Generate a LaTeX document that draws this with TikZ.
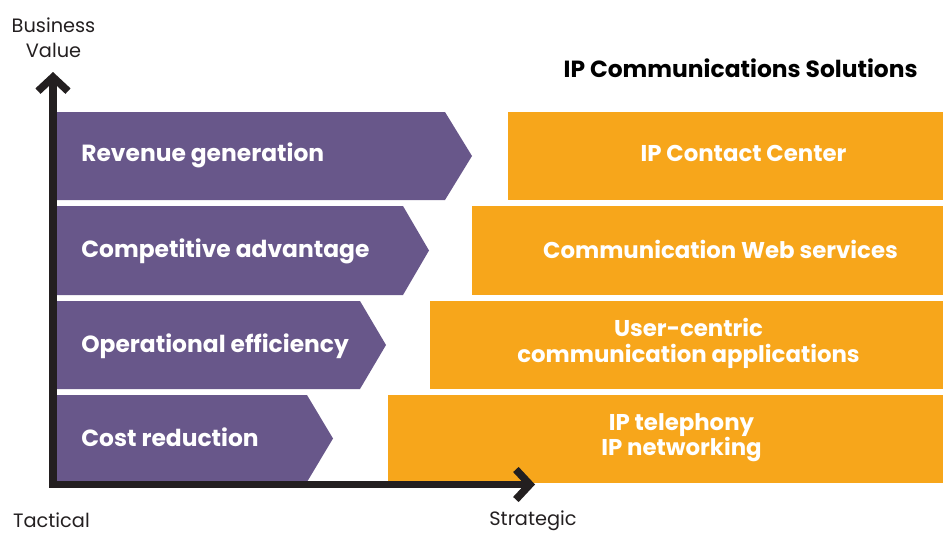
\documentclass[tikz,border=0pt]{standalone}
\usepackage{fontspec}
\setmainfont{Poppins}
\usetikzlibrary{arrows.meta}

\definecolor{benefit}{HTML}{68578A}
\definecolor{solution}{HTML}{F7A61B}
\definecolor{axisblack}{HTML}{231F20}

\tikzset{
  benefitlabel/.style={anchor=west, inner sep=0pt, text=white, font=\fontsize{13.3}{15}\selectfont\bfseries},
  solutionbox/.style={fill=solution, anchor=north west,
    inner sep=0pt, outer sep=0pt, minimum height=1.76cm},
  solutiontext/.style={text=white, align=center, font=\fontsize{13}{14.5}\selectfont\bfseries},
  axislabel/.style={text=axisblack, align=center, font=\fontsize{11}{14}\selectfont}
}

\begin{document}
\begin{tikzpicture}

	\useasboundingbox (0,0) rectangle (18.98,10.64);

	% purple benefit arrows
	\fill[benefit] (1.14,8.40) -- (8.90,8.40) -- (9.44,7.52) -- (8.90,6.64) -- (1.14,6.64) -- cycle;
	\fill[benefit] (1.14,6.52) -- (8.06,6.52) -- (8.58,5.63) -- (8.06,4.74) -- (1.14,4.74) -- cycle;
	\fill[benefit] (1.14,4.62) -- (7.20,4.62) -- (7.72,3.74) -- (7.20,2.86) -- (1.14,2.86) -- cycle;
	\fill[benefit] (1.14,2.74) -- (6.14,2.74) -- (6.66,1.87) -- (6.14,1.00) -- (1.14,1.00) -- cycle;

	% benefit labels
	\node[benefitlabel] (revenue) at (1.62,7.53) {Revenue generation};
	\node[benefitlabel] (advantage) at (1.62,5.62) {Competitive advantage};
	\node[benefitlabel] (efficiency) at (1.62,3.71) {Operational efficiency};
	\node[benefitlabel] (cost) at (1.62,1.90) {Cost reduction};

	% orange solution boxes
	\node[solutionbox, minimum width=8.70cm] (contact) at (10.16,8.40) {};
	\node[solutionbox, minimum width=9.42cm, minimum height=1.78cm] (web) at (9.44,6.52) {};
	\node[solutionbox, minimum width=10.26cm] (usercentric) at (8.60,4.62) {};
	\node[solutionbox, minimum width=11.10cm] (telephony) at (7.76,2.74) {};

	% solution texts, a little right of the box centres
	\node[solutiontext] (contacttext) at ([xshift=0.36cm, yshift=0.05cm]contact.center) {IP Contact Center};
	\node[solutiontext] (webtext) at ([xshift=0.26cm, yshift=0.03cm]web.center) {Communication Web services};
	\node[solutiontext] (usercentrictext) at ([xshift=0.04cm, yshift=0.03cm]usercentric.center) {User-centric\\communication applications};
	\node[solutiontext] (telephonytext) at ([xshift=0.32cm, yshift=0.03cm]telephony.center) {IP telephony\\IP networking};

	% title
	\node[font=\fontsize{13.3}{15}\selectfont\bfseries, anchor=east, inner sep=0pt] (title) at (18.36,9.28) {IP Communications Solutions};

	% axes
	\coordinate (origin) at (1.06,0.95);
	\coordinate (vtip) at (1.06,9.20);
	\coordinate (htip) at (10.70,0.95);
	\draw[axisblack, line width=0.15cm, line join=miter,
	      {Straight Barb[length=2.8mm, width=6mm]}-{Straight Barb[length=2.8mm, width=6mm]}]
	      (vtip) -- (origin) -- (htip);

	% axis labels
	\node[axislabel] (value) at (1.07,9.89) {Business\\Value};
	\node[axislabel] (tactical) at (1.03,0.24) {Tactical};
	\node[axislabel] (strategic) at (10.66,0.22) {Strategic};
\end{tikzpicture}
\end{document}
